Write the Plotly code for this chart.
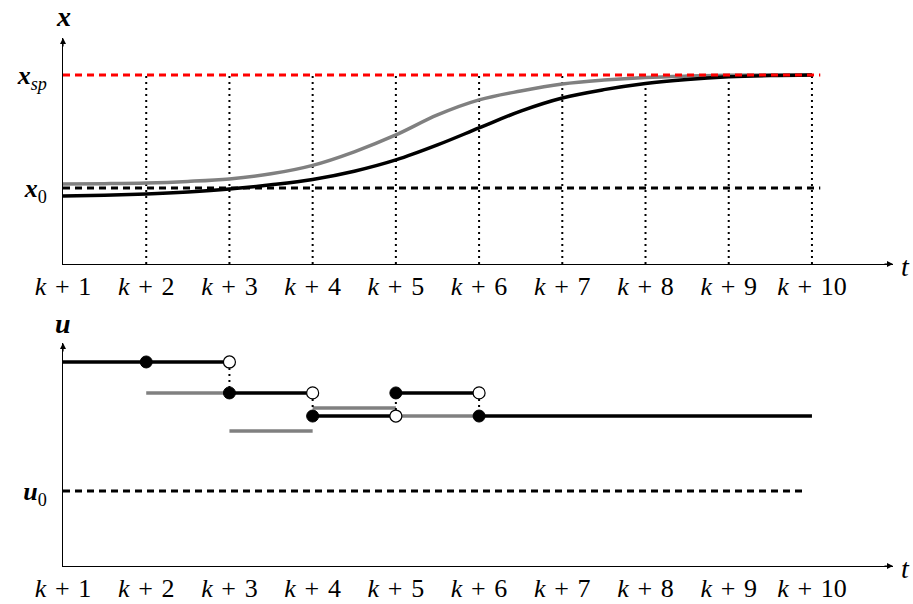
import plotly.graph_objects as go

# ---- time axis ----
k_steps = [1, 2, 3, 4, 5, 6, 7, 8, 9, 10]
k_labels = ["<i>k</i>\u2004+\u2004" + str(i) for i in k_steps]

# ---- state trajectories sampled every half step (x0 = 0, x_sp = 1) ----
x_setpoint = 1.0
x_initial = 0.0
k_half = [1, 1.5, 2, 2.5, 3, 3.5, 4, 4.5, 5, 5.5, 6, 6.5, 7, 7.5, 8, 8.5, 9, 9.5, 10]
x_gray = [0.035, 0.038, 0.044, 0.058, 0.08, 0.125, 0.2, 0.32, 0.469, 0.646,
          0.779, 0.858, 0.92, 0.955, 0.978, 0.99, 0.997, 1.0, 1.0]
x_black = [-0.071, -0.064, -0.053, -0.035, -0.009, 0.028, 0.075, 0.148, 0.248, 0.381,
           0.531, 0.68, 0.796, 0.87, 0.925, 0.96, 0.983, 0.995, 1.0]

# ---- piecewise constant inputs (u0 = 0) ----
u_initial = 0.0
u_black_start = [1, 3, 4, 5, 6]
u_black_end = [3, 4, 5, 6, 10]
u_black_val = [1.0, 0.76, 0.581, 0.76, 0.581]
u_gray_start = [2, 3, 4, 5]
u_gray_end = [3, 4, 5, 6]
u_gray_val = [0.76, 0.465, 0.643, 0.581]
u_filled_k = [2, 3, 4, 5, 6]
u_filled_val = [1.0, 0.76, 0.581, 0.76, 0.581]
u_open_k = [3, 4, 5, 6]
u_open_val = [1.0, 0.76, 0.581, 0.76]

W, H = 913, 604
SERIF = "Times New Roman, Liberation Serif, DejaVu Serif, serif"
GRAY = "#808080"

x_range = [1.0, 10.974]
top_range = [-0.673, 1.327]
bot_range = [-0.581, 1.147]
dash_end = 10.1
u_dash_end = 9.92

DOTS = "2px,4px"
DASHES = "7px,5px"

fig = go.Figure()

# top panel: dotted sampling lines
for k in k_steps[1:]:
    fig.add_trace(go.Scatter(x=[k, k], y=[top_range[0], x_setpoint], mode="lines",
                             line=dict(color="black", width=2, dash=DOTS),
                             xaxis="x", yaxis="y", showlegend=False, hoverinfo="skip"))
# reference lines and trajectories
fig.add_trace(go.Scatter(x=[k_steps[0], dash_end], y=[x_initial, x_initial], mode="lines",
                         line=dict(color="black", width=3, dash=DASHES),
                         xaxis="x", yaxis="y", showlegend=False))
fig.add_trace(go.Scatter(x=k_half, y=x_gray, mode="lines", line_shape="spline",
                         line=dict(color=GRAY, width=3.5, smoothing=1),
                         xaxis="x", yaxis="y", showlegend=False))
fig.add_trace(go.Scatter(x=k_half, y=x_black, mode="lines", line_shape="spline",
                         line=dict(color="black", width=3.5, smoothing=1),
                         xaxis="x", yaxis="y", showlegend=False))
fig.add_trace(go.Scatter(x=[k_steps[0], dash_end], y=[x_setpoint, x_setpoint], mode="lines",
                         line=dict(color="red", width=3, dash=DASHES),
                         xaxis="x", yaxis="y", showlegend=False))

# bottom panel
fig.add_trace(go.Scatter(x=[k_steps[0], u_dash_end], y=[u_initial, u_initial], mode="lines",
                         line=dict(color="black", width=3, dash=DASHES),
                         xaxis="x2", yaxis="y2", showlegend=False))
for s, e, v in zip(u_gray_start, u_gray_end, u_gray_val):
    fig.add_trace(go.Scatter(x=[s, e], y=[v, v], mode="lines",
                             line=dict(color=GRAY, width=3.5),
                             xaxis="x2", yaxis="y2", showlegend=False))
for s, e, v in zip(u_black_start, u_black_end, u_black_val):
    fig.add_trace(go.Scatter(x=[s, e], y=[v, v], mode="lines",
                             line=dict(color="black", width=3.5),
                             xaxis="x2", yaxis="y2", showlegend=False))
# dotted jumps between consecutive input levels
for k, v_open in zip(u_open_k, u_open_val):
    v_fill = u_filled_val[u_filled_k.index(k)]
    fig.add_trace(go.Scatter(x=[k, k], y=[v_open, v_fill], mode="lines",
                             line=dict(color="black", width=2, dash=DOTS),
                             xaxis="x2", yaxis="y2", showlegend=False))
fig.add_trace(go.Scatter(x=u_filled_k, y=u_filled_val, mode="markers",
                         marker=dict(color="black", size=12, line=dict(color="black", width=1)),
                         xaxis="x2", yaxis="y2", showlegend=False))
fig.add_trace(go.Scatter(x=u_open_k, y=u_open_val, mode="markers",
                         marker=dict(color="white", size=12, line=dict(color="black", width=1.2)),
                         xaxis="x2", yaxis="y2", showlegend=False))

x_dom = [63 / W, 893 / W]
top_dom = [1 - 264 / H, 1 - 38 / H]
bot_dom = [1 - 566 / H, 1 - 343 / H]

tickfont = dict(family=SERIF, size=26, color="black")
xaxis_common = dict(range=x_range, domain=x_dom, showgrid=False, zeroline=False,
                    showline=True, linecolor="black", linewidth=1, ticks="",
                    tickmode="array", tickvals=k_steps, ticktext=k_labels,
                    tickfont=tickfont, ticklabelstandoff=-1, automargin=False)
yaxis_common = dict(showgrid=False, zeroline=False, showline=True, linecolor="black",
                    linewidth=1, ticks="", tickmode="array", tickfont=tickfont,
                    ticklabelstandoff=10, automargin=False)

fig.update_layout(
    width=W, height=H, margin=dict(l=0, r=0, t=0, b=0, autoexpand=False),
    paper_bgcolor="white", plot_bgcolor="white",
    xaxis=dict(anchor="y", **xaxis_common),
    yaxis=dict(anchor="x", domain=top_dom, range=top_range,
               tickvals=[x_setpoint, x_initial],
               ticktext=["<b><i>x</i></b><sub><i>sp</i></sub>", "<b><i>x</i></b><sub>0</sub>"],
               **yaxis_common),
    xaxis2=dict(anchor="y2", **xaxis_common),
    yaxis2=dict(anchor="x2", domain=bot_dom, range=bot_range,
                tickvals=[u_initial], ticktext=["<b><i>u</i></b><sub>0</sub>"],
                **yaxis_common),
)

annotations = []
# arrowheads at the ends of the axes
for xr, yr, rng in (("x", "y", top_range), ("x2", "y2", bot_range)):
    annotations.append(dict(x=x_range[1], y=rng[0], xref=xr, yref=yr, text="", showarrow=True,
                            ax=-10, ay=0, arrowhead=2, arrowsize=1, arrowwidth=1.2,
                            arrowcolor="black"))
    annotations.append(dict(x=x_range[0], y=rng[1], xref=xr, yref=yr, text="", showarrow=True,
                            ax=0, ay=10, arrowhead=2, arrowsize=1, arrowwidth=1.2,
                            arrowcolor="black"))
    annotations.append(dict(x=x_range[1], y=rng[0], xref=xr, yref=yr, text="<i>t</i>",
                            showarrow=False, xanchor="left", yanchor="middle", xshift=6, yshift=-2,
                            font=dict(family=SERIF, size=28, color="black")))
annotations.append(dict(x=x_range[0], y=top_range[1], xref="x", yref="y",
                        text="<b><i>x</i></b>", showarrow=False, yanchor="bottom", yshift=4,
                        font=dict(family=SERIF, size=28, color="black")))
annotations.append(dict(x=x_range[0], y=bot_range[1], xref="x2", yref="y2",
                        text="<b><i>u</i></b>", showarrow=False, yanchor="bottom", yshift=2,
                        font=dict(family=SERIF, size=28, color="black")))
fig.update_layout(annotations=annotations)

fig.write_html("out.html")
